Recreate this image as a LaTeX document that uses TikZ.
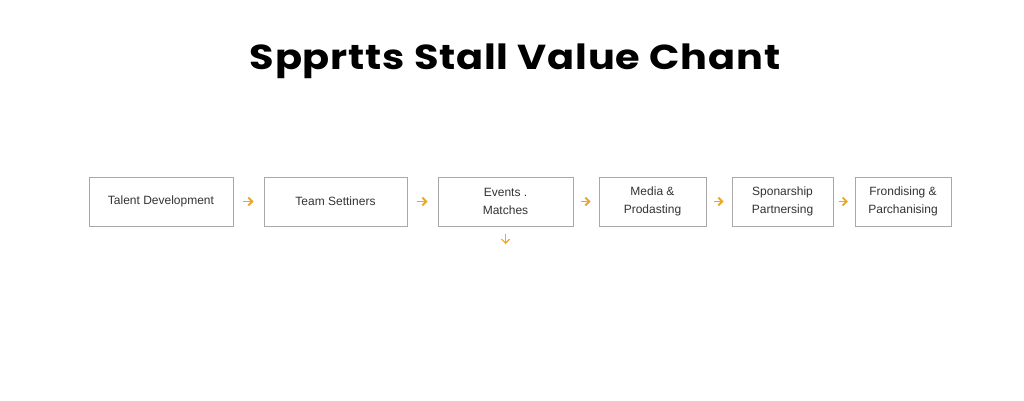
\documentclass[tikz,border=0pt]{standalone}
\usepackage{fontspec}
\setmainfont{Liberation Sans}
\newfontfamily\titlefont[LetterSpace=2]{Poppins}
\usetikzlibrary{arrows.meta}
\definecolor{boxgray}{HTML}{A8A8A8}
\definecolor{arrorange}{HTML}{E8A62A}
\tikzset{
  stagebox/.style={draw=boxgray, line width=0.6pt, fill=white, inner sep=0pt, font=\fontsize{9}{13.5}\selectfont, align=center, text=black!80},
  flowarr/.style={draw=arrorange, line width=1.4pt, -{Straight Barb[length=3pt,width=6pt]}},
}
\begin{document}
\begin{tikzpicture}[x=0.75pt,y=-0.75pt]
\useasboundingbox (0,0) rectangle (1024,400);
\node[font=\titlefont\bfseries\fontsize{26}{32}\selectfont, xscale=1.15] (title) at (515,61) {Spprtts Stall Value Chant};
\node[stagebox, minimum width=144*0.75pt, minimum height=49*0.75pt] (b1) at (161,201.5) {Talent Development};
\node[stagebox, minimum width=143*0.75pt, minimum height=49*0.75pt] (b2) at (335.5,201.5) {Team Settiners};
\node[stagebox, minimum width=135*0.75pt, minimum height=49*0.75pt] (b3) at (505.5,201.5) {Events .\\Matches};
\node[stagebox, minimum width=107*0.75pt, minimum height=49*0.75pt] (b4) at (652.5,201.5) {Media \&\\Prodasting};
\node[stagebox, minimum width=101*0.75pt, minimum height=49*0.75pt] (b5) at (782.5,201.5) {Sponarship\\Partnersing};
\node[stagebox, minimum width=96*0.75pt, minimum height=49*0.75pt] (b6) at (903,201.5) {Frondising \&\\Parchanising};
\coordinate (down) at (505.5,244);
\draw[flowarr, shorten <=7.5pt, shorten >=7.5pt] (b1) -- (b2);
\draw[flowarr, shorten <=7pt, shorten >=7.5pt] (b2) -- (b3);
\draw[flowarr, shorten <=5.5pt, shorten >=6pt] (b3) -- (b4);
\draw[flowarr, shorten <=5.5pt, shorten >=6pt] (b4) -- (b5);
\draw[flowarr, shorten <=4pt, shorten >=5pt] (b5) -- (b6);
\draw[flowarr, line width=0.9pt, shorten <=6pt] (b3) -- (down);
\end{tikzpicture}
\end{document}
